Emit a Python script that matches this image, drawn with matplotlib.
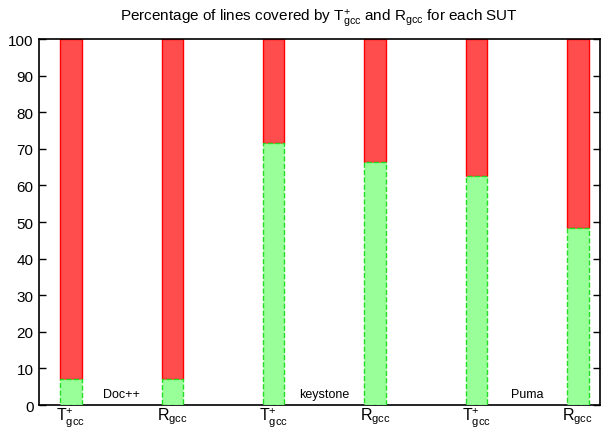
import numpy as np
import matplotlib
matplotlib.use("Agg")
import matplotlib.pyplot as plt

plt.rcParams['font.family'] = ['Liberation Sans', 'DejaVu Sans']
plt.rcParams['mathtext.default'] = 'regular'

# one bar per tool per SUT
tick_labels = [r'T$^{+}_{gcc}$', r'R$_{gcc}$'] * 3
suts = ["Doc++", "keystone", "Puma"]
covered = [7.0, 7.0, 71.5, 66.5, 62.5, 48.5]
total = 100

x = np.arange(len(covered))
rest = [total - c for c in covered]

fig = plt.figure(figsize=(6.09, 4.31), dpi=100)
ax = fig.add_axes([0.064, 0.058, 0.921, 0.849])

w = 0.21
ax.bar(x, covered, w, color='#99ff99', edgecolor='#22dd22', linestyle='--', linewidth=1, zorder=3)
ax.bar(x, rest, w, bottom=covered, color='#ff4d4d', edgecolor='#ff0000', linewidth=1, zorder=2)

for i, name in enumerate(suts):
    ax.text(2 * i + 0.5, 1.5, name, ha='center', va='bottom', fontsize=9)

ax.set_xlim(-0.315, 5.217)
ax.set_ylim(0, 100)
ax.set_yticks(range(0, 101, 10))
ax.set_xticks(x)
ax.set_xticklabels(tick_labels, fontsize=11.5)
ax.tick_params(axis='x', pad=0)
ax.tick_params(axis='y', labelsize=11, pad=4)
ax.tick_params(direction='in', top=True, right=True, length=5, width=1)
for s in ax.spines.values():
    s.set_linewidth(1.2)

ax.set_title(r'Percentage of lines covered by T$^{+}_{gcc}$ and R$_{gcc}$ for each SUT', fontsize=11, pad=14)

fig.savefig("out.png", dpi=100)
